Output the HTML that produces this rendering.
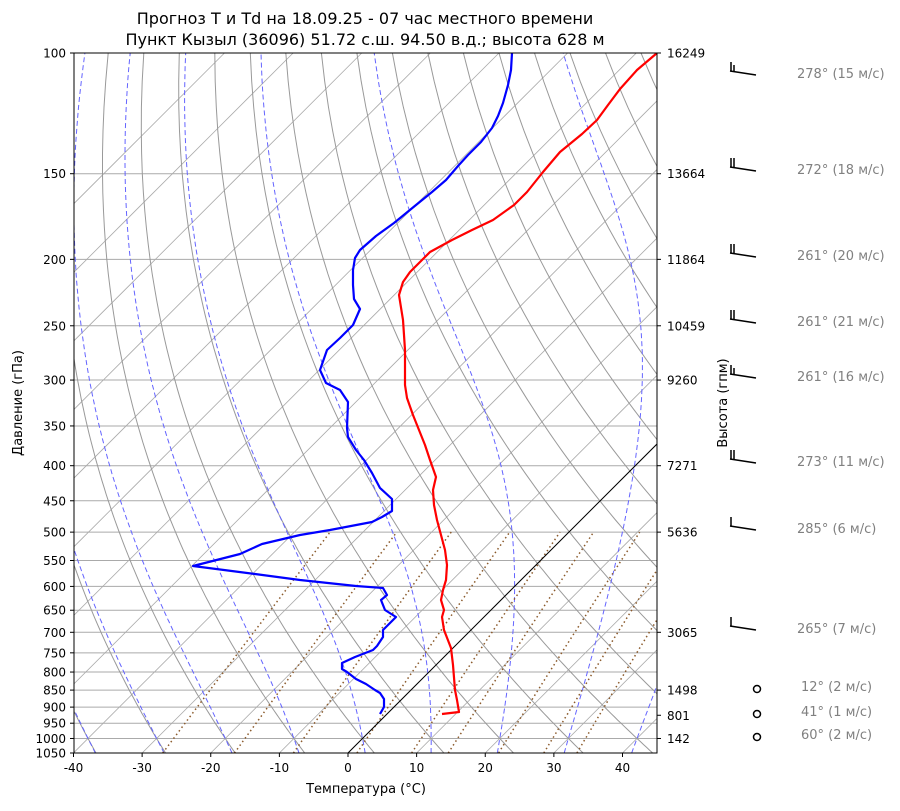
<!DOCTYPE html>
<html><head><meta charset="utf-8"><style>
body{margin:0;background:#fff;}
svg text{font-family:"DejaVu Sans","Liberation Sans",sans-serif;}
</style></head><body>
<svg id="s" width="900" height="806" xmlns="http://www.w3.org/2000/svg">
<defs><clipPath id="c"><rect x="74" y="53" width="583" height="700"/></clipPath></defs>
<g id="grid" clip-path="url(#c)"></g>
<g id="prof" clip-path="url(#c)"></g>
<rect x="74" y="53" width="583" height="700" fill="none" stroke="#000" stroke-width="1"/>
<g id="axes"></g>
<text x="365" y="24" font-size="16" text-anchor="middle">Прогноз T и Td на 18.09.25 - 07 час местного времени</text>
<text x="365" y="45" font-size="16" text-anchor="middle">Пункт Кызыл (36096) 51.72 с.ш. 94.50 в.д.; высота 628 м</text>
<text x="366" y="793" font-size="13" text-anchor="middle">Температура (°C)</text>
<text transform="translate(22,403) rotate(-90)" font-size="13" text-anchor="middle">Давление (гПа)</text>
<text transform="translate(727,403) rotate(-90)" font-size="13" text-anchor="middle">Высота (гпм)</text>
</svg>
<script>
var NS="http://www.w3.org/2000/svg";
function Y(p){return 53+297.7*Math.log(p/100);}
function X(T,p){return 348+6.8625*T+(753-Y(p));}
function el(par,tag,a,txt){var e=document.createElementNS(NS,tag);for(var k in a)e.setAttribute(k,a[k]);if(txt!==undefined)e.textContent=txt;document.getElementById(par).appendChild(e);return e;}
function pl(par,pts,a){a.points=pts.map(function(q){return q[0].toFixed(1)+","+q[1].toFixed(1)}).join(" ");a.fill="none";el(par,"polyline",a);}
var P=[100,150,200,250,300,350,400,450,500,550,600,650,700,750,800,850,900,950,1000,1050];
P.forEach(function(p){el("grid","line",{x1:74,x2:657,y1:Y(p),y2:Y(p),stroke:"#aaa","stroke-width":1});});
for(var T=-120;T<=50;T+=10){el("grid","line",{x1:X(T,1050),y1:753,x2:X(T,100),y2:53,stroke:"#aaa","stroke-width":0.8});}
// dry adiabats
for(var th=-40;th<=200;th+=10){var pts=[];for(var p=1050;p>=100;p-=10){var t=(th+273.15)*Math.pow(p/1000,0.286)-273.15;pts.push([X(t,p),Y(p)]);}pl("grid",pts,{stroke:"#999","stroke-width":1});}
// moist adiabats
function es(t){return 6.112*Math.exp(17.67*t/(t+243.5));}
function dTdp(t,p){var T=t+273.15,e=es(t),rs=0.622*e/(p-e),Rd=287,Lv=2.501e6,Cp=1005;return (Rd*T+Lv*rs)/(Cp+Lv*Lv*rs*0.622/(Rd*T*T))/p/100*100;}
for(var t0=-50;t0<=40;t0+=10){var pts=[],t=t0,p=1000;pts.push([X(t,p),Y(p)]);while(p>100){var dp=-5;t+=dTdp(t,p)*dp;p+=dp;pts.push([X(t,p),Y(p)]);}
 var d=[[X(t0,1000),Y(1000)]];t=t0;p=1000;while(p<1050){t+=dTdp(t,p)*5;p+=5;d.push([X(t,p),Y(p)]);}
 pl("grid",d.reverse().concat(pts),{stroke:"#6464ff","stroke-width":1,"stroke-dasharray":"5,3"});}
// mixing ratio
[0.0004,0.001,0.002,0.004,0.007,0.01,0.016,0.024,0.032].forEach(function(w){var pts=[];for(var p=1050;p>=500;p-=10){var e=w*p/(0.622+w),l=Math.log(e/6.112),td=243.5*l/(17.67-l);pts.push([X(td,p),Y(p)]);}pl("grid",pts,{stroke:"#8b5a2b","stroke-width":1.5,"stroke-dasharray":"1.5,3"});});
el("grid","line",{x1:348,y1:753,x2:X(0,100),y2:53,stroke:"#000","stroke-width":1});
var red=[[442,714],[459,712],[457,700],[455,690],[453,665],[451,648],[444,630],[442,617],[444,610],[441,600],[443,590],[446,580],[447,565],[445,550],[441,535],[437,520],[434,505],[433,490],[436,477],[430,460],[425,445],[419,430],[413,415],[407,398],[405,385],[405,350],[403,320],[399,295],[403,282],[410,272],[420,262],[430,252],[452,240],[472,230],[493,220],[514,205],[527,192],[543,172],[560,152],[582,134],[597,120],[608,105],[620,89],[637,70],[657,53]];
var blue=[[380,714],[384,707],[384,699],[380,693],[375,690],[366,684],[356,679],[347,672],[342,669],[342,663],[355,657],[373,650],[377,646],[383,637],[383,630],[389,624],[396,617],[385,610],[381,600],[387,595],[383,588],[356,586],[300,580],[255,574],[193,566],[240,554],[262,544],[300,535],[330,530],[372,522],[382,517],[392,511],[392,499],[380,488],[372,473],[364,460],[356,450],[348,437],[347,428],[348,402],[340,390],[326,383],[320,370],[327,350],[340,338],[353,325],[360,309],[354,299],[353,285],[353,270],[355,258],[360,250],[376,236],[394,223],[416,205],[432,192],[446,180],[458,166],[468,155],[481,142],[492,128],[498,116],[503,103],[508,85],[511,70],[512,53]];
pl("prof",red,{stroke:"#f00","stroke-width":2.2,"stroke-linejoin":"round"});
pl("prof",blue,{stroke:"#00f","stroke-width":2.2,"stroke-linejoin":"round"});
P.forEach(function(p){var y=Y(p);el("axes","line",{x1:70,x2:74,y1:y,y2:y,stroke:"#000"});el("axes","text",{x:66,y:y+4.5,"font-size":12,"text-anchor":"end"},p);});
for(var T=-40;T<=40;T+=10){var x=348+6.8625*T;el("axes","line",{x1:x,x2:x,y1:753,y2:757,stroke:"#000"});el("axes","text",{x:x,y:772,"font-size":12,"text-anchor":"middle"},T);}
[[100,"16249"],[150,"13664"],[200,"11864"],[250,"10459"],[300,"9260"],[400,"7271"],[500,"5636"],[700,"3065"],[850,"1498"],[925,"801"],[1000,"142"]].forEach(function(a){var y=Y(a[0]);el("axes","line",{x1:657,x2:661,y1:y,y2:y,stroke:"#000"});el("axes","text",{x:667,y:y+4.5,"font-size":12},a[1]);});
[[73,"278° (15 м/с)",3],[169,"272° (18 м/с)",4],[255,"261° (20 м/с)",4],[321,"261° (21 м/с)",4],[376,"261° (16 м/с)",3],[461,"273° (11 м/с)",2],[528,"285° (6 м/с)",1],[628,"265° (7 м/с)",1]].forEach(function(a){var y=a[0];el("axes","line",{x1:730,y1:y-2,x2:756,y2:y+2,stroke:"#000","stroke-width":1.5});for(var i=0;i<Math.min(a[2],2);i++){var bx=731+i*3;el("axes","line",{x1:bx,y1:y-2,x2:bx,y2:y-(i==1&&a[2]==3?8:11),stroke:"#000","stroke-width":1.5});}el("axes","text",{x:797,y:y+5,"font-size":13,fill:"#808080"},a[1]);});
[[689,"12° (2 м/с)"],[714,"41° (1 м/с)"],[737,"60° (2 м/с)"]].forEach(function(a){el("axes","circle",{cx:757,cy:a[0],r:3.5,fill:"none",stroke:"#000","stroke-width":1.5});el("axes","text",{x:801,y:a[0]+2,"font-size":13,fill:"#808080"},a[1]);});
</script>
</body></html>
